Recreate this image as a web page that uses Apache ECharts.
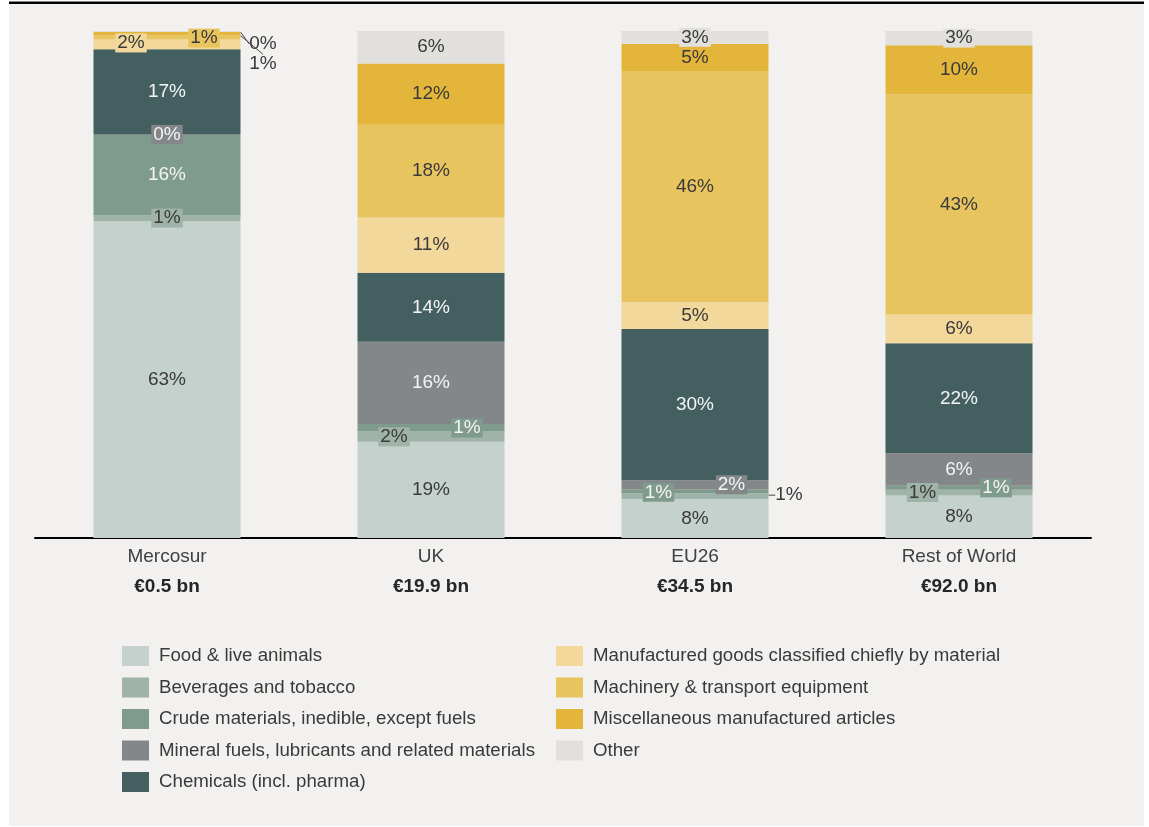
<!DOCTYPE html>
<html>
<head>
<meta charset="utf-8">
<script src="https://cdn.jsdelivr.net/npm/echarts@6/dist/echarts.min.js"></script>
<style>
  html, body { margin: 0; padding: 0; background: #ffffff; }
  #chart { width: 1149px; height: 827px; }
</style>
</head>
<body>
<div id="chart"></div>
<script>
// Export destinations and their total export value (EUR bn)
const categories = ['Mercosur', 'UK', 'EU26', 'Rest of World'];
const totals = [0.5, 19.9, 34.5, 92.0];

// Share of each product group in total exports (%), bottom to top of each stack
const food = [62.5, 19.0, 7.7, 8.4];
const beverages = [1.2, 2.1, 1.1, 1.1];
const crude = [15.8, 1.4, 0.8, 0.8];
const mineral = [0.2, 16.2, 1.8, 6.4];
const chemicals = [16.7, 13.6, 29.8, 21.7];
const manufactured = [1.9, 10.9, 5.3, 5.7];
const machinery = [0.8, 18.3, 45.6, 43.4];
const misc = [0.7, 12.1, 5.4, 9.7];
const other = [0.2, 6.4, 2.5, 2.8];

const groupNames = [
  'Food & live animals',
  'Beverages and tobacco',
  'Crude materials, inedible, except fuels',
  'Mineral fuels, lubricants and related materials',
  'Chemicals (incl. pharma)',
  'Manufactured goods classified chiefly by material',
  'Machinery & transport equipment',
  'Miscellaneous manufactured articles',
  'Other'
];
const groupValues = [food, beverages, crude, mineral, chemicals, manufactured, machinery, misc, other];

// Styling
const groupColors = ['#c4d1cc', '#9fb3a9', '#7f9b8e', '#83878a', '#435f5f', '#f2d99b', '#e8c45f', '#e3b53a', '#e2e0dc'];
const DARK = '#3a3a3a';
const LIGHT = '#f4f4f4';
const groupTextColors = [DARK, DARK, LIGHT, LIGHT, LIGHT, DARK, DARK, DARK, DARK];
const FONT = '"Liberation Sans", Arial, Helvetica, sans-serif';
const FONT_SIZE = 19;

// Small segments: boxed labels nudged sideways [group, category, dx, dy]
const boxShift = [
  [5, 0, -36, -1.5],
  [6, 0, 37, 0.5],
  [1, 1, -37, 0.5],
  [2, 1, 36, 0.5],
  [2, 2, -36.5, 1],
  [3, 2, 36.5, 0],
  [1, 3, -36.5, 0],
  [2, 3, 37, 0]
];
// Tiny segments: labels placed outside the bar with a leader line [group, category, dx, dy]
const callouts = [
  [8, 0, 96, 12.5],
  [7, 0, 96, 30],
  [1, 2, 94, -1]
];

function findShift(list, g, c) {
  for (const s of list) if (s[0] === g && s[1] === c) return s;
  return null;
}

const series = groupNames.map((name, g) => ({
  name: name,
  type: 'bar',
  stack: 'share',
  barWidth: 147,
  itemStyle: { color: groupColors[g] },
  emphasis: { disabled: true },
  label: {
    show: true,
    position: 'inside',
    fontFamily: FONT,
    fontSize: FONT_SIZE,
    color: groupTextColors[g],
    backgroundColor: groupColors[g],
    padding: [0, 2, 0, 2],
    formatter: p => Math.round(p.value) + '%'
  },
  labelLayout: params => {
    const s = findShift(callouts, params.seriesIndex, params.dataIndex) ||
              findShift(boxShift, params.seriesIndex, params.dataIndex);
    return s ? { dx: s[2], dy: s[3] } : {};
  },
  data: groupValues[g].map((v, c) => {
    const item = { value: v };
    if (findShift(callouts, g, c)) {
      item.label = { backgroundColor: 'transparent', color: DARK, padding: 0 };
      item.labelLine = { show: true, smooth: false, lineStyle: { color: '#444', width: 1 } };
    }
    return item;
  })
}));

const legendBase = {
  orient: 'vertical',
  icon: 'rect',
  padding: 0,
  itemWidth: 27,
  itemHeight: 20,
  itemGap: 11.5,
  selectedMode: false,
  textStyle: { fontFamily: FONT, fontSize: 18.7, color: DARK, padding: [0, 0, 0, 5] }
};

const chart = echarts.init(document.getElementById('chart'), null, { renderer: 'canvas' });
chart.setOption({
  backgroundColor: '#ffffff',
  animation: false,
  textStyle: { fontFamily: FONT },
  graphic: [
    { type: 'rect', z: -10, silent: true, shape: { x: 9, y: 4, width: 1135, height: 822 }, style: { fill: '#f2f1ef' } },
    { type: 'rect', z: -9, silent: true, shape: { x: 9, y: 1.5, width: 1135, height: 2.5 }, style: { fill: '#000000' } }
  ],
  grid: { left: 35, right: 58, top: 31, bottom: 289, containLabel: false },
  legend: [
    Object.assign({}, legendBase, { left: 122, top: 646, data: groupNames.slice(0, 5) }),
    Object.assign({}, legendBase, { left: 556, top: 646, data: groupNames.slice(5) })
  ],
  xAxis: {
    type: 'category',
    data: categories,
    axisLine: { lineStyle: { color: '#000000', width: 2 } },
    axisTick: { show: false },
    axisLabel: {
      margin: 9,
      interval: 0,
      formatter: (name, idx) => '{n|' + name + '}\n{v|€' + totals[idx].toFixed(1) + ' bn}',
      rich: {
        n: { fontFamily: FONT, fontSize: FONT_SIZE, color: '#404040', lineHeight: 20 },
        v: { fontFamily: FONT, fontSize: FONT_SIZE, fontWeight: 'bold', color: '#262626', lineHeight: 40 }
      }
    }
  },
  yAxis: { type: 'value', min: 0, max: 100, show: false, splitLine: { show: false } },
  series: series
});
</script>
</body>
</html>
